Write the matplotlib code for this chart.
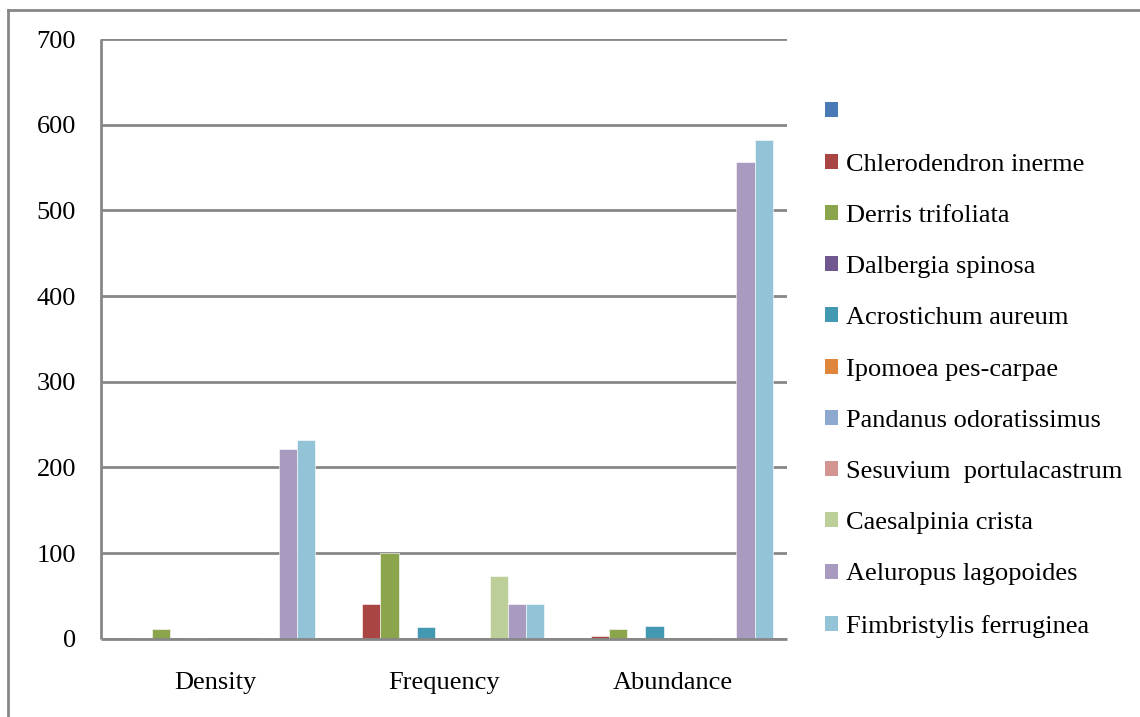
import numpy as np
import matplotlib.pyplot as plt
from matplotlib.patches import Patch
from matplotlib.lines import Line2D

plt.rcParams['font.family'] = ['Liberation Serif', 'DejaVu Serif']

categories = ['Density', 'Frequency', 'Abundance']
species = ['', 'Chlerodendron inerme', 'Derris trifoliata', 'Dalbergia spinosa',
           'Acrostichum aureum', 'Ipomoea pes-carpae', 'Pandanus odoratissimus',
           'Sesuvium  portulacastrum', 'Caesalpinia crista', 'Aeluropus lagopoides',
           'Fimbristylis ferruginea']
colors = ['#4a7ab5', '#a94543', '#8aa54b', '#70578f', '#4399b2', '#e0853c',
          '#8ea9d0', '#d39592', '#bccf98', '#a99abf', '#93c3d6']

# one row per species: Density, Frequency, Abundance
values = [
    [0, 0, 0],
    [0.6, 40, 3],
    [11, 100, 11],
    [0, 0, 0],
    [0.6, 13.3, 15],
    [0, 0, 0],
    [0, 0, 0],
    [0, 0, 0],
    [0.6, 73.3, 1],
    [222, 40, 556],
    [232, 40, 582],
]

fig = plt.figure(figsize=(11.4, 7.17), dpi=100)
ax = fig.add_axes([0.0886, 0.1092, 0.6018, 0.8364])

n = len(species)
x = np.arange(len(categories))
w = 0.875 / n
for i in range(n):
    ax.bar(x - 0.4375 + w * (i + 0.5), values[i], width=w, color=colors[i],
           edgecolor='white', linewidth=0.4, zorder=3)

ax.set_xlim(-0.5, 2.5)
ax.set_ylim(0, 700)
ax.set_yticks(range(0, 701, 100))
ax.set_xticks(x)
ax.set_xticklabels(categories)
ax.tick_params(axis='both', length=0, labelsize=19, colors='black')
ax.tick_params(axis='y', pad=18)
ax.tick_params(axis='x', pad=24)
ax.yaxis.grid(True, color='#878787', linewidth=2, zorder=0)
for s in ['top', 'right']:
    ax.spines[s].set_visible(False)
for s in ['left', 'bottom']:
    ax.spines[s].set_color('#878787')
    ax.spines[s].set_linewidth(2)
    ax.spines[s].set_capstyle('butt')
    ax.spines[s].set_zorder(4)

handles = [Patch(facecolor=c, edgecolor='none') for c in colors]
fig.legend(handles, species, loc='upper left', bbox_to_anchor=(0.714, 0.872),
           frameon=False, fontsize=19, handlelength=0.5, handleheight=0.5,
           handletextpad=0.3, labelspacing=1.108, borderaxespad=0)

# chart frame
fig.add_artist(Line2D([0.0066, 0.0066], [0, 0.986], color='#878787', linewidth=2))
fig.add_artist(Line2D([0.0066, 1], [0.986, 0.986], color='#878787', linewidth=2))

fig.savefig('out.png', dpi=100)
